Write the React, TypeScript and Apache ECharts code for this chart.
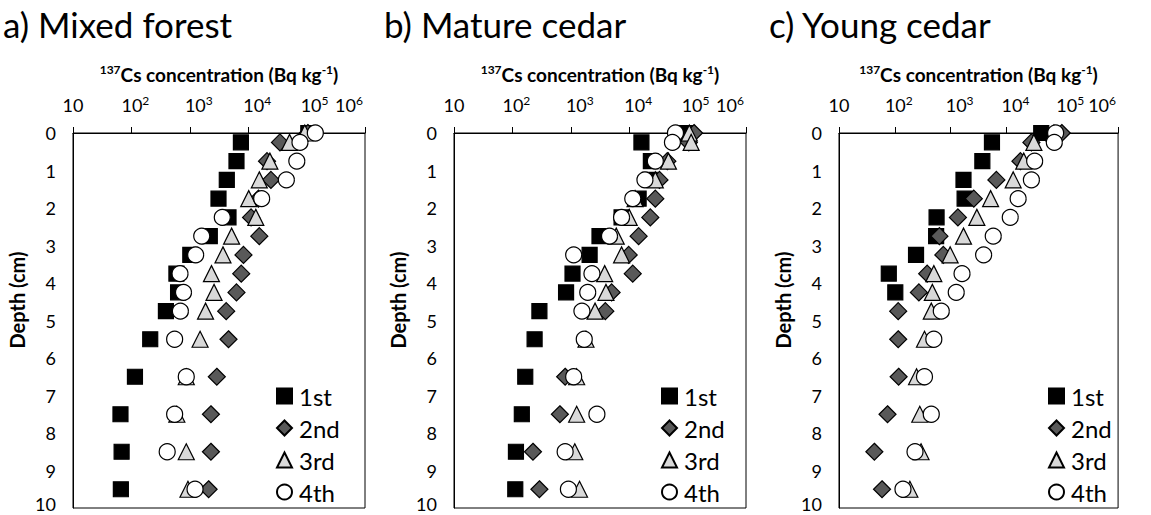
import React, { useEffect, useRef } from "react";
import * as echarts from "echarts";

// Sampling depths (cm); the first row is the surface layer
const DEPTHS = [0, 0.25, 0.75, 1.25, 1.75, 2.25, 2.75, 3.25, 3.75, 4.25, 4.75, 5.5, 6.5, 7.5, 8.5, 9.5];

const SAMPLINGS = ["1st", "2nd", "3rd", "4th"];
const PANEL_TITLES = ["a) Mixed forest", "b) Mature cedar", "c) Young cedar"];
const X_TICKS = [10, 100, 1000, 10000, 100000, 1000000];

// 137Cs concentration (Bq/kg) by depth, mixed forest
const MIXED_1ST = [107000, 7500, 6300, 4300, 3100, 4600, 2200, 1020, 590, 630, 390, 210, 115, 65, 68, 66];
const MIXED_2ND = [105000, 35000, 21000, 24500, 15000, 11200, 15500, 8300, 7600, 6300, 4200, 4600, 2900, 2300, 2300, 2100];
const MIXED_3RD = [93000, 51000, 23500, 15500, 10200, 13500, 5200, 3700, 2350, 2600, 1860, 1500, 870, 600, 870, 930];
const MIXED_4TH = [141000, 77000, 68000, 45000, 17000, 3600, 1600, 1260, 680, 780, 690, 550, 870, 550, 410, 1230];

// Mature cedar
const MATURE_1ST = [98000, 16200, 23500, 22400, 14500, 7400, 3100, 2100, 1070, 830, 290, 240, 166, 145, 115, 112];
const MATURE_2ND = [129000, 105000, 45000, 33000, 28000, 23000, 14500, 9800, 11500, 5000, 3900, null, 800, 650, 225, 290];
const MATURE_3RD = [107000, 115000, 47000, 28000, 12600, 10000, 6000, 7400, 3800, 4000, 2600, 1820, 1260, 1260, 1170, 1410];
const MATURE_4TH = [62000, 55000, 28000, 18600, 11500, 7400, 4600, 1120, 2300, 1950, 1550, 1700, 1120, 2800, 800, 910];

// Young cedar
const YOUNG_1ST = [42000, 5500, 3700, 1700, 1780, 560, 550, 240, 78, 102, null, null, null, null, null, null];
const YOUNG_2ND = [98000, 28000, 17800, 6600, 2600, 1350, 630, 740, 380, 270, 115, 115, 117, 74, 43, 59];
const YOUNG_3RD = [71000, 31000, 20400, 13200, 5200, 2950, 1700, 980, 500, 470, 450, 340, 245, 280, 295, 186];
const YOUNG_4TH = [76000, 72000, 32000, 28000, 16200, 11700, 5800, 3900, 1600, 1260, 680, 500, 340, 450, 230, 140];

const PANELS = [
  [MIXED_1ST, MIXED_2ND, MIXED_3RD, MIXED_4TH],
  [MATURE_1ST, MATURE_2ND, MATURE_3RD, MATURE_4TH],
  [YOUNG_1ST, YOUNG_2ND, YOUNG_3RD, YOUNG_4TH],
];

const FONT = "Lato, 'Open Sans', sans-serif";

const MARKERS = [
  { symbol: "rect", size: 15, fill: "#000000" },
  { symbol: "diamond", size: 17, fill: "#595959" },
  { symbol: "triangle", size: 16, fill: "#d9d9d9" },
  { symbol: "circle", size: 16, fill: "#ffffff" },
];

const GRID_LEFTS = [73, 454, 839];
const GRID_TOP = 133;
const GRID_W = 292;
const GRID_H = 375;

function tickLabel(v: number): string {
  const e = Math.round(Math.log10(v));
  if (e === 1) return "{b1|10}";
  return `{b${e}|10}{s${e}|${e}}`;
}

const SUP = { fontSize: 12, verticalAlign: "top", lineHeight: 12 };

export default function App() {
  const ref = useRef<HTMLDivElement>(null);

  useEffect(() => {
    if (!ref.current) return;
    const chart = echarts.init(ref.current, null, { renderer: "svg" });

    const grids = GRID_LEFTS.map((left) => ({
      left,
      top: GRID_TOP,
      width: GRID_W,
      height: GRID_H,
      show: true,
      borderColor: "#000",
      borderWidth: 1,
      backgroundColor: "transparent",
    }));

    const xAxes = GRID_LEFTS.map((_, p) => ({
      type: "log",
      logBase: 10,
      gridIndex: p,
      position: "top",
      min: X_TICKS[0],
      max: X_TICKS[X_TICKS.length - 1],
      axisLine: { show: true, lineStyle: { color: "#000", width: 1 } },
      axisTick: { show: true, inside: false, length: 6, lineStyle: { color: "#000" } },
      minorTick: { show: false },
      splitLine: { show: false },
      axisLabel: {
        color: "#000",
        fontSize: 18,
        fontFamily: FONT,
        lineHeight: 22,
        margin: 17,
        formatter: (v: number) => tickLabel(v),
        rich: {
          b1: {},
          b2: { padding: [0, 0, 0, 8] },
          b3: { padding: [0, 0, 0, 18] },
          b4: { padding: [0, 0, 0, 18] },
          b5: { padding: [0, 0, 0, 16] },
          b6: {},
          s2: SUP,
          s3: SUP,
          s4: SUP,
          s5: SUP,
          s6: { ...SUP, padding: [0, 32, 0, 0] },
        },
      },
      name: "{sup|137}Cs concentration (Bq kg{sup|-1})",
      nameLocation: "middle",
      nameGap: 48,
      nameTextStyle: {
        color: "#000",
        fontSize: 19,
        fontWeight: "bold",
        fontFamily: FONT,
        lineHeight: 22,
        rich: { sup: { fontSize: 12, fontWeight: "bold", verticalAlign: "top", lineHeight: 12 } },
      },
    }));

    const yAxes = GRID_LEFTS.map((_, p) => ({
      type: "value",
      gridIndex: p,
      inverse: true,
      min: 0,
      max: 10,
      interval: 1,
      axisLine: { show: true, lineStyle: { color: "#000", width: 1 } },
      axisTick: { show: false },
      splitLine: { show: false },
      axisLabel: {
        color: "#000",
        fontSize: 18,
        fontFamily: FONT,
        margin: 17,
        formatter: (v: number) => (v === 10 ? "{last|10}" : String(v)),
        rich: { last: { padding: [0, 0, 8, 0] } },
      },
    }));

    const series: any[] = [];
    PANELS.forEach((panel, p) => {
      panel.forEach((vals, s) => {
        const m = MARKERS[s];
        series.push({
          type: "scatter",
          name: SAMPLINGS[s],
          xAxisIndex: p,
          yAxisIndex: p,
          symbol: m.symbol,
          symbolSize: m.size,
          itemStyle: { color: m.fill, borderColor: "#000", borderWidth: 1.2, opacity: 1 },
          emphasis: { disabled: true },
          data: DEPTHS.map((d, i) => (vals[i] == null ? null : [vals[i], d])).filter((x) => x !== null),
        });
      });
    });

    const legendLefts = [271, 656, 1043];
    const legends = legendLefts.map((left) => ({
      orient: "vertical",
      left,
      top: 379,
      itemWidth: 15,
      itemHeight: 15,
      itemGap: 8,
      selectedMode: false,
      data: SAMPLINGS.map((name, s) => ({ name, icon: MARKERS[s].symbol })),
      textStyle: { color: "#000", fontSize: 24, fontFamily: FONT, lineHeight: 24, padding: [0, 0, 0, 2] },
    }));

    const titles = PANEL_TITLES.map((text, p) => ({
      text,
      left: GRID_LEFTS[p] - 73,
      top: 1,
      padding: [5, 3, 5, 3],
      textStyle: { color: "#000", fontSize: 35, fontWeight: "normal", fontFamily: FONT },
    }));

    const depthLabels = GRID_LEFTS.map((left) => ({
      type: "text",
      x: left - 56,
      y: 300,
      rotation: Math.PI / 2,
      style: {
        text: "Depth (cm)",
        font: `bold 20px ${FONT}`,
        fill: "#000",
        align: "center",
        verticalAlign: "middle",
      },
    }));

    chart.setOption({
      animation: false,
      backgroundColor: "#fff",
      title: titles,
      grid: grids,
      xAxis: xAxes,
      yAxis: yAxes,
      legend: legends,
      series,
      graphic: depthLabels,
    });

    return () => chart.dispose();
  }, []);

  return (
    <div
      ref={ref}
      style={{ position: "fixed", left: 0, top: 0, width: 1151, height: 515 }}
    />
  );
}
